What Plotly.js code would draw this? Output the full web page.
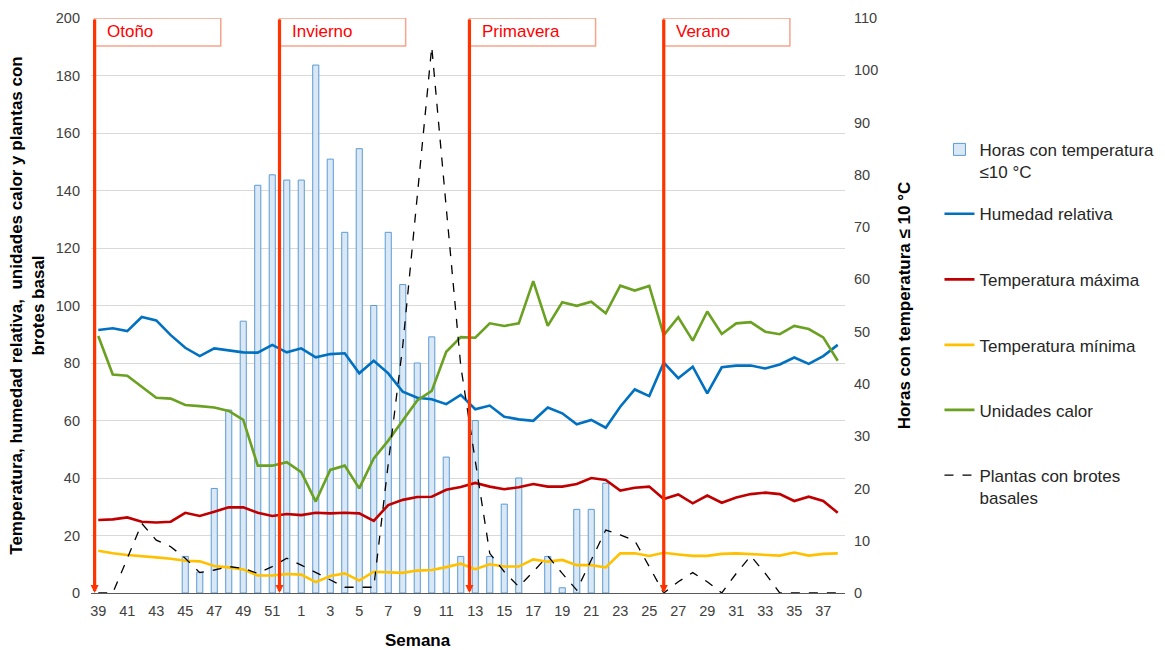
<!DOCTYPE html>
<html>
<head>
<meta charset="utf-8">
<script src="https://cdn.plot.ly/plotly-3.0.1.min.js"></script>
<style>html,body{margin:0;padding:0;background:#fff;}#chart{width:1165px;height:650px;}</style>
</head>
<body>
<div id="chart"></div>
<script>
// Semanas (categorías del eje x)
const weeks = ['39','40','41','42','43','44','45','46','47','48','49','50','51','52',
  '1','2','3','4','5','6','7','8','9','10','11','12','13','14','15','16','17','18','19','20',
  '21','22','23','24','25','26','27','28','29','30','31','32','33','34','35','36','37','38'];
const weekTicks = ['39','41','43','45','47','49','51','1','3','5','7','9','11','13','15','17',
  '19','21','23','25','27','29','31','33','35','37'];

// Horas con temperatura <= 10 °C (eje derecho); null = sin barra
const horas = [null,null,null,null,null,null,7,4,20,35,52,78,80,79,
  79,101,83,69,85,55,69,59,44,49,26,7,33,7,17,22,null,7,1,16,16,21,
  null,null,null,null,null,null,null,null,null,null,null,null,null,null,null,null];
// Humedad relativa
const humedad = [91.5,92.1,91.1,96,94.8,89.7,85.3,82.4,85.1,84.3,83.7,83.6,86.3,83.7,
  85.1,82,83.1,83.4,76.4,80.8,76.4,70,67.9,67.4,65.7,68.9,63.9,65.2,61.3,60.4,59.9,64.5,62.5,58.7,
  60.2,57.5,64.8,70.8,68.5,80.1,74.7,78.7,69.4,78.5,79.1,79.1,78.1,79.5,81.9,79.7,82.4,86.3];
// Temperatura máxima
const tmax = [25.4,25.6,26.3,24.8,24.5,24.8,27.9,26.8,28.3,29.8,29.8,27.9,26.8,27.5,
  27.1,27.9,27.7,27.9,27.7,25.1,30.6,32.4,33.4,33.5,35.9,36.9,38.3,37,36.1,36.8,37.9,37,37,37.9,
  40,39.3,35.6,36.6,37,32.7,34.3,31.2,33.9,31.4,33.2,34.4,34.9,34.4,32,33.5,32,27.9];
// Temperatura mínima
const tmin = [14.7,13.8,13.2,12.9,12.4,11.9,11.2,11,9.4,8.9,8.2,6.1,6.1,6.6,
  6.4,3.8,5.9,6.8,4.3,7.4,7.1,7,7.8,8,9,10.2,8.3,10,9.2,9.2,11.7,10.9,11.5,9.7,
  9.7,8.9,13.8,13.8,12.9,14,13.4,12.9,12.9,13.6,13.8,13.6,13.4,13,14.1,13,13.6,13.8];
// Unidades calor
const unidades = [89.4,76,75.6,71.8,67.9,67.6,65.4,65,64.5,63.3,60.2,44.3,44.3,45.5,
  42,31.8,42.8,44.3,36.4,46.8,53,60,67,70.3,83.9,89,88.8,93.8,92.9,93.8,108.5,92.9,101.1,99.9,
  101.3,97.3,106.9,105.2,106.8,89.7,95.9,87.8,97.9,90.1,93.8,94.2,90.9,90,92.9,91.8,88.9,80.8];
// Plantas con brotes basales
const plantas = [0,0,12,24.2,18.4,16.1,12.1,7.1,8,9.2,8.6,6.8,9.2,12.1,
  9.7,7.2,4.5,2,2,2,45,86,138,190,134,79,46,13.8,7.4,2.2,7.4,12.9,6.8,1,
  11.5,21.9,20.2,18.2,9.2,0,3.9,7.1,3.9,0,6.8,12.9,6.8,0,0,0,0,0];

// Estaciones
const seasons = ['Otoño','Invierno','Primavera','Verano'];
const seasonStart = [-0.25, 12.5, 25.6, 39.0];   // posición (índice de categoría)

const FONT = 'Liberation Sans, Arial, sans-serif';
const RED = '#FF3300';

const traces = [
  {type:'bar', name:'Horas con temperatura<br>≤10 °C', x:weeks, y:horas, yaxis:'y', width:0.42,
   marker:{color:'#DAE7F5', line:{color:'#5B9BD5', width:1}}, legend:'legend'},
  {type:'scatter', mode:'lines', name:'Humedad relativa', x:weeks, y:humedad, yaxis:'y2',
   line:{color:'#0070C0', width:2.6}, legend:'legend2'},
  {type:'scatter', mode:'lines', name:'Temperatura máxima', x:weeks, y:tmax, yaxis:'y2',
   line:{color:'#C00000', width:2.6}, legend:'legend3'},
  {type:'scatter', mode:'lines', name:'Temperatura mínima', x:weeks, y:tmin, yaxis:'y2',
   line:{color:'#FFC000', width:2.6}, legend:'legend4'},
  {type:'scatter', mode:'lines', name:'Unidades calor', x:weeks, y:unidades, yaxis:'y2',
   line:{color:'#6AA121', width:2.6}, legend:'legend5'},
  {type:'scatter', mode:'lines', name:'Plantas con brotes<br>basales', x:weeks, y:plantas, yaxis:'y2',
   line:{color:'#000000', width:1.3, dash:'dash'}, legend:'legend6'}
];

const shapes = [];
const annotations = [];
seasons.forEach((s, i) => {
  const x0 = seasonStart[i];
  shapes.push({type:'rect', xref:'x', yref:'y2', x0:x0, x1:x0 + 8.7, y0:190.3, y1:200,
    fillcolor:'#FFFFFF', line:{color:'#F7A48C', width:1.5}, layer:'above'});
  annotations.push({xref:'x', yref:'y2', x:x0 + 0.7, y:195.2, text:s, showarrow:false,
    xanchor:'left', yanchor:'middle', font:{family:FONT, size:17, color:'#FF0000'}});
  annotations.push({xref:'x', yref:'y2', x:x0, y:0, axref:'x', ayref:'y2', ax:x0, ay:200,
    text:'', showarrow:true, arrowhead:2, arrowsize:0.5, arrowwidth:3.2, arrowcolor:RED});
});
annotations.push({xref:'paper', yref:'paper', x:0.434, y:-0.082, text:'<b>Semana</b>',
  showarrow:false, xanchor:'center', yanchor:'middle', font:{family:FONT, size:17, color:'#000'}});

function leg(y, extra) {
  return Object.assign({x:1.1253, y:y, xanchor:'left', yanchor:'top', bgcolor:'rgba(0,0,0,0)',
    borderwidth:0, font:{family:FONT, size:17, color:'#262626'}, itemwidth:30}, extra || {});
}

const layout = {
  width:1165, height:650,
  margin:{l:91, r:320, t:18, b:57, autoexpand:false},
  paper_bgcolor:'#FFFFFF', plot_bgcolor:'rgba(0,0,0,0)',
  font:{family:FONT, size:14.5, color:'#404040'},
  bargap:0.5,
  xaxis:{type:'category', range:[-0.5, 51.5], tickmode:'array', tickvals:weekTicks, ticktext:weekTicks,
    showgrid:false, zeroline:false, showline:true, linecolor:'#595959', linewidth:1.3, ticks:'',
    tickfont:{family:FONT, size:14.5, color:'#404040'}, ticklabelstandoff:4, fixedrange:true},
  yaxis:{side:'right', range:[0,110], tickmode:'linear', tick0:0, dtick:10, showgrid:false,
    zeroline:false, showline:false, ticks:'', ticklabelstandoff:8,
    tickfont:{family:FONT, size:14.5, color:'#404040'},
    title:{text:'<b>Horas con temperatura ≤ 10 °C</b>', font:{family:FONT, size:17, color:'#000'}, standoff:20}},
  yaxis2:{overlaying:'y', side:'left', range:[0,200], tickmode:'linear', tick0:0, dtick:20,
    showgrid:true, gridcolor:'#D9D9D9', gridwidth:1, zeroline:false, showline:false, ticks:'',
    ticklabelstandoff:10, tickfont:{family:FONT, size:14.5, color:'#404040'},
    title:{text:'<b>Temperatura, humedad relativa,  unidades calor y plantas con<br>brotes basal</b>',
      font:{family:FONT, size:17, color:'#000'}, standoff:6}},
  showlegend:true,
  legend: leg(0.802, {valign:'top'}),
  legend2: leg(0.690),
  legend3: leg(0.576),
  legend4: leg(0.462),
  legend5: leg(0.349),
  legend6: leg(0.2356, {valign:'top'}),
  shapes:shapes,
  annotations:annotations
};

Plotly.newPlot('chart', traces, layout, {displayModeBar:false, staticPlot:true});
</script>
</body>
</html>
